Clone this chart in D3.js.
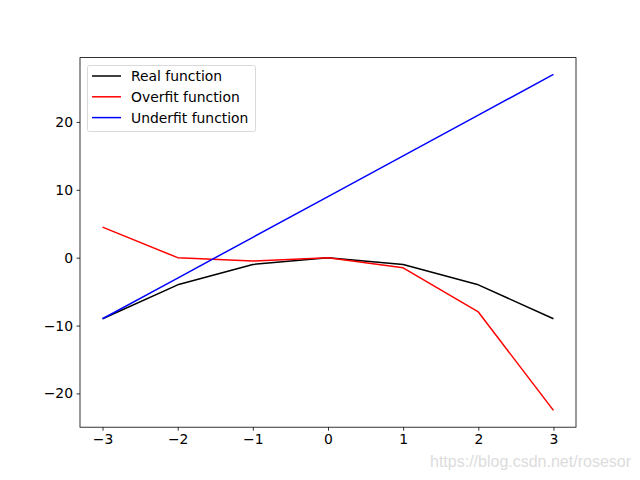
<!DOCTYPE html>
<html><head><meta charset="utf-8">
<script src="https://cdn.jsdelivr.net/npm/d3@7"></script>
<style>body{margin:0;background:#fff}svg{display:block}</style>
</head><body>
<svg id="c" width="640" height="480"></svg>
<script>
const xs = [-3, -2, -1, 0, 1, 2, 3];
const realY = [-9, -4, -1, 0, -1, -4, -9];
const overY = [4.5, 0, -0.5, 0, -1.5, -8, -22.5];
const underY = [-9, -3, 3, 9, 15, 21, 27];
const seriesNames = ["Real function", "Overfit function", "Underfit function"];
const seriesColors = ["#000000", "#ff0000", "#0000ff"];
const xTicks = [-3, -2, -1, 0, 1, 2, 3];
const yTicks = [-20, -10, 0, 10, 20];

const svg = d3.select("#c");
const L = 80, R = 576, T = 57.6, B = 427.2;
const all = realY.concat(overY, underY);
const ymin = d3.min(all), ymax = d3.max(all), ym = (ymax - ymin) * 0.05;
const x = d3.scaleLinear().domain([-3.3, 3.3]).range([L, R]);
const y = d3.scaleLinear().domain([ymin - ym, ymax + ym]).range([B, T]);
const font = "DejaVu Sans, sans-serif";

const series = [realY, overY, underY];
const line = d3.line().x((d, i) => x(xs[i])).y(d => y(d));
series.forEach((s, k) => {
  svg.append("path").datum(s).attr("d", line).attr("fill", "none")
    .attr("stroke", seriesColors[k]).attr("stroke-width", 1.5).attr("stroke-linejoin", "round");
});

const xa = svg.append("g").attr("transform", `translate(0,${B})`)
  .call(d3.axisBottom(x).tickValues(xTicks).tickSize(3.5).tickPadding(3.5).tickFormat(d => d < 0 ? "\u2212" + Math.abs(d) : d));
const ya = svg.append("g").attr("transform", `translate(${L},0)`)
  .call(d3.axisLeft(y).tickValues(yTicks).tickSize(3.5).tickPadding(3.5).tickFormat(d => d < 0 ? "\u2212" + Math.abs(d) : d));
[xa, ya].forEach(a => {
  a.select(".domain").remove();
  a.selectAll("line").attr("stroke", "#000").attr("stroke-width", 0.8);
  a.selectAll("text").attr("font-family", font).attr("font-size", 13.9).attr("fill", "#000");
});

svg.append("rect").attr("x", L).attr("y", T).attr("width", R - L).attr("height", B - T)
  .attr("fill", "none").attr("stroke", "#000").attr("stroke-width", 0.8);

const lg = svg.append("g");
lg.append("rect").attr("x", 87.5).attr("y", 65.5).attr("width", 168).attr("height", 66)
  .attr("rx", 2).attr("fill", "#fff").attr("fill-opacity", 0.8).attr("stroke", "#d9d9d9").attr("stroke-width", 1);
seriesNames.forEach((n, k) => {
  const yy = 76 + k * 20.8;
  lg.append("line").attr("x1", 92).attr("x2", 121).attr("y1", yy).attr("y2", yy)
    .attr("stroke", seriesColors[k]).attr("stroke-width", 1.5);
  lg.append("text").attr("x", 131).attr("y", yy).attr("dy", "0.36em").text(n)
    .attr("font-family", font).attr("font-size", 13.9).attr("fill", "#000");
});

svg.append("text").attr("x", 631).attr("y", 467).attr("text-anchor", "end")
  .attr("font-family", "Liberation Sans, Arial, sans-serif").attr("font-size", 16)
  .attr("fill", "#dcdcdc").text("https://blog.csdn.net/rosesor");
</script>
</body></html>
